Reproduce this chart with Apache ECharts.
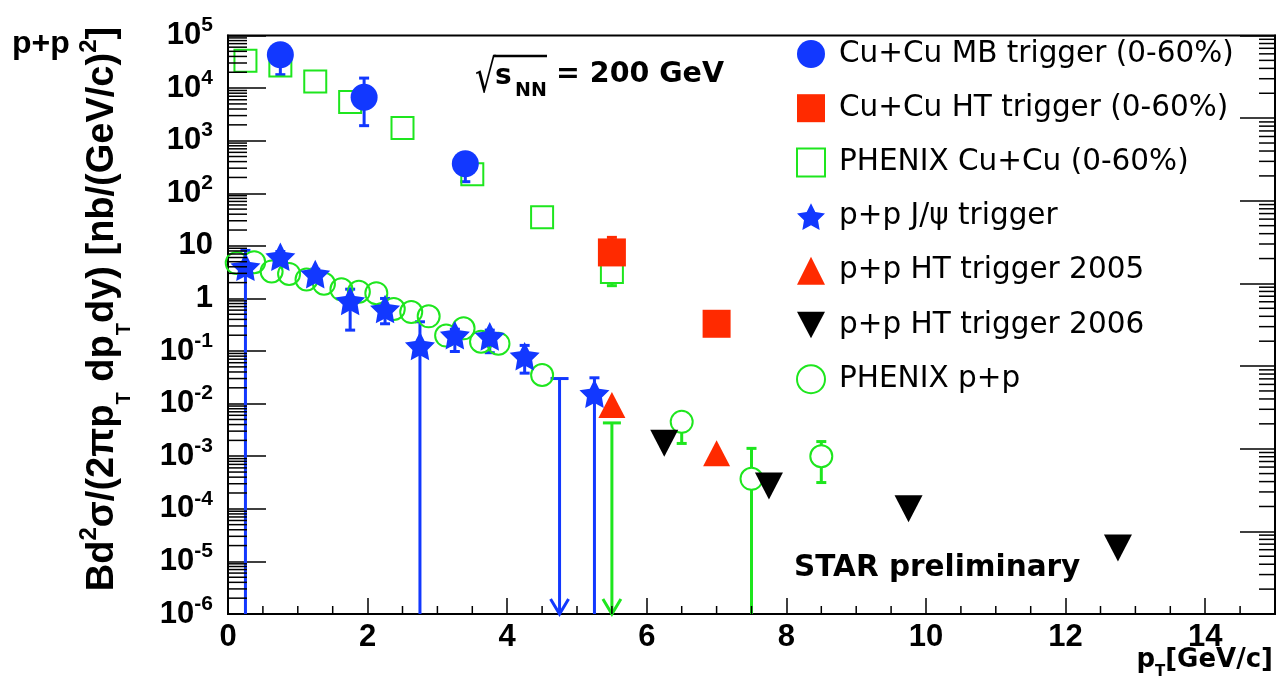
<!DOCTYPE html>
<html>
<head>
<meta charset="utf-8">
<script src="https://cdn.jsdelivr.net/npm/echarts@6/dist/echarts.min.js"></script>
<style>
  html, body { margin: 0; padding: 0; background: #fff; }
  #chart { width: 1276px; height: 684px; }
</style>
</head>
<body>
<div id="chart"></div>
<script>
// J/psi invariant yield B d2sigma/(2pi pT dpT dy) [nb/(GeV/c)^2] versus pT [GeV/c]
// Values with their lower / upper error-bar ends; a lower end of 0 runs off the axis.

// STAR Cu+Cu, minimum-bias trigger (0-60%)
const cuMbPt  = [0.75, 1.95, 3.4];
const cuMbVal = [4.3e4, 6.7e3, 363];
const cuMbLo  = [1.8e4, 1.93e3, 166];
const cuMbHi  = [6.0e4, 1.55e4, 480];

// STAR Cu+Cu, high-tower trigger (0-60%)
const cuHtPt  = [5.5, 7.0];
const cuHtVal = [7.5, 0.33];
const cuHtLo  = [5.5, 0.26];
const cuHtHi  = [14.5, 0.42];

// PHENIX Cu+Cu (0-60%)
const phxCuPt  = [0.25, 0.75, 1.25, 1.75, 2.5, 3.5, 4.5, 5.5];
const phxCuVal = [3.3e4, 2.7e4, 1.33e4, 5450, 1740, 231, 35, 3.2];
const phxCuLo  = [3.0e4, 2.5e4, 1.25e4, 5100, 1650, 215, 32, 1.75];
const phxCuHi  = [3.6e4, 2.9e4, 1.4e4, 5800, 1830, 247, 38, 4.6];

// STAR p+p, J/psi trigger
const ppPt  = [0.25, 0.75, 1.25, 1.75, 2.25, 2.75, 3.25, 3.75, 4.25, 5.25];
const ppVal = [4.0, 6.2, 2.9, 0.9, 0.63, 0.125, 0.2, 0.19, 0.08, 0.0155];
const ppLo  = [0, 4.8, 2.3, 0.25, 0.33, 0, 0.098, 0.093, 0.038, 0];
const ppHi  = [8.2, 7.8, 3.6, 1.5, 1.0, 0.36, 0.26, 0.25, 0.128, 0.031];
// STAR p+p, J/psi trigger: upper limit
const ppLimPt  = [4.75];
const ppLimVal = [0.03];

// STAR p+p, high-tower trigger 2005 / 2006
const ht05Pt  = [5.5, 7.0];
const ht05Val = [0.0094, 0.00114];
const ht06Pt  = [6.25, 7.75, 9.75, 12.75];
const ht06Val = [0.00176, 2.73e-4, 1.0e-4, 1.8e-5];

// PHENIX p+p
const phxPpPt  = [0.125, 0.375, 0.625, 0.875, 1.125, 1.375, 1.625, 1.875, 2.125, 2.375,
                  2.625, 2.875, 3.125, 3.375, 3.625, 3.875, 4.5, 6.5, 7.5, 8.5];
const phxPpVal = [4.7, 4.9, 3.27, 2.93, 2.3, 1.9, 1.49, 1.34, 1.26, 0.63,
                  0.55, 0.457, 0.197, 0.27, 0.15, 0.138, 0.035, 0.0045, 3.72e-4, 1.0e-3];
const phxPpLo  = [4.4, 4.6, 3.1, 2.75, 2.15, 1.78, 1.4, 1.26, 1.18, 0.59,
                  0.51, 0.42, 0.18, 0.25, 0.138, 0.126, 0.031, 0.00175, 0, 3.16e-4];
const phxPpHi  = [5.0, 5.2, 3.45, 3.1, 2.45, 2.02, 1.58, 1.42, 1.34, 0.67,
                  0.59, 0.49, 0.215, 0.29, 0.162, 0.15, 0.039, 0.0068, 1.41e-3, 1.9e-3];
// PHENIX p+p: upper limit
const phxPpLimPt  = [5.5];
const phxPpLimVal = [0.0043];

// axis ranges (y axes are decades: log10 of the value)
const xMin = 0, xMax = 15, xMajor = 2, xMinorStep = 0.5;
const yExpMin = -6, yExpMax = 5;      // left axis
const rExpMin = 0, rExpMax = 7;       // right-hand frame axis

const names = {
  cuMb: 'Cu+Cu MB trigger (0-60%)',
  cuHt: 'Cu+Cu HT trigger (0-60%)',
  phxCu: 'PHENIX Cu+Cu (0-60%)',
  pp: 'p+p J/\u03c8 trigger',
  ht05: 'p+p HT trigger 2005',
  ht06: 'p+p HT trigger 2006',
  phxPp: 'PHENIX p+p'
};

const BLUE = '#1238ff', RED = '#ff2a00', GREEN = '#1ee61e', BLACK = '#000000';
const STAR = 'path://M1,0L1.294,0.595L1.951,0.691L1.476,1.155L1.588,1.809L1,1.5L0.412,1.809L0.524,1.155L0.049,0.691L0.706,0.595Z';
const DOWN = 'path://M0,0L2,0L1,1.9Z';
const TICK_FONT = 'Liberation Sans';
const TEXT_FONT = 'DejaVu Sans';

const lg = v => (v > 0 ? Math.log10(v) : null);
const zip = (xs, ys) => xs.map((x, i) => [x, lg(ys[i])]);

// vertical error bars with end caps; 'gap' keeps the bar out of open markers
function errorBars(xs, ys, lo, hi, color, gap) {
  return {
    type: 'custom', silent: true,
    data: xs.map((x, i) => [x, lg(ys[i]), lg(lo[i]), lg(hi[i])]),
    renderItem(params, api) {
      const cs = params.coordSys;
      const bottom = cs.y + cs.height;
      const x = api.value(0);
      const c = api.coord([x, api.value(1)]);
      const l = api.value(2), h = api.value(3);
      const st = { stroke: color, lineWidth: 3 };
      const kids = [];
      const open = l == null || isNaN(l);
      const yl = open ? bottom : Math.min(api.coord([x, l])[1], bottom);
      const yh = api.coord([x, h])[1];
      if (yl > c[1] + gap) {
        kids.push({ type: 'line', shape: { x1: c[0], y1: c[1] + gap, x2: c[0], y2: yl }, style: st });
        if (!open) kids.push({ type: 'line', shape: { x1: c[0] - 5, y1: yl, x2: c[0] + 5, y2: yl }, style: st });
      }
      if (yh < c[1] - gap) {
        kids.push({ type: 'line', shape: { x1: c[0], y1: c[1] - gap, x2: c[0], y2: yh }, style: st });
        kids.push({ type: 'line', shape: { x1: c[0] - 5, y1: yh, x2: c[0] + 5, y2: yh }, style: st });
      }
      return { type: 'group', children: kids };
    }
  };
}

// upper limits: bar at the limit, line down to the axis, open arrow head
function upperLimits(xs, vals, color) {
  return {
    type: 'custom', silent: true,
    data: zip(xs, vals),
    renderItem(params, api) {
      const cs = params.coordSys;
      const bottom = cs.y + cs.height;
      const c = api.coord([api.value(0), api.value(1)]);
      const st = { stroke: color, lineWidth: 3, fill: null };
      return {
        type: 'group', children: [
          { type: 'line', shape: { x1: c[0] - 9, y1: c[1], x2: c[0] + 9, y2: c[1] }, style: st },
          { type: 'line', shape: { x1: c[0], y1: c[1], x2: c[0], y2: bottom }, style: st },
          { type: 'polyline', shape: { points: [[c[0] - 9, bottom - 15], [c[0], bottom], [c[0] + 9, bottom - 15]] }, style: st }
        ]
      };
    }
  };
}

// minor ticks drawn inward from an axis edge
function ticks(points, yAxisIndex, dx, dy) {
  return {
    type: 'custom', silent: true, yAxisIndex: yAxisIndex, z: 5,
    data: points,
    renderItem(params, api) {
      const p = api.coord([api.value(0), api.value(1)]);
      return { type: 'line', shape: { x1: p[0], y1: p[1], x2: p[0] + dx, y2: p[1] + dy },
               style: { stroke: '#000', lineWidth: 1.5 } };
    }
  };
}

const leftMinor = [], rightMinor = [], bottomMinor = [];
for (let e = yExpMin; e < yExpMax; e++)
  for (let m = 2; m <= 9; m++) leftMinor.push([xMin, e + Math.log10(m)]);
for (let e = rExpMin; e < rExpMax; e++)
  for (let m = 2; m <= 9; m++) rightMinor.push([xMax, e + Math.log10(m)]);
for (let v = xMin + xMinorStep; v < xMax; v += xMinorStep)
  if (Math.abs(v / xMajor - Math.round(v / xMajor)) > 1e-9) bottomMinor.push([v, yExpMin]);

const chart = echarts.init(document.getElementById('chart'));

const rich = {
  p: { fontFamily: TICK_FONT, fontWeight: 'bold', fontSize: 31, lineHeight: 31, color: '#000' },
  b: { fontFamily: TICK_FONT, fontWeight: 'bold', fontSize: 31, lineHeight: 31, color: '#000',
       padding: [20, 0, 0, 0], verticalAlign: 'bottom' },
  s: { fontFamily: TICK_FONT, fontWeight: 'bold', fontSize: 21, lineHeight: 21, color: '#000',
       padding: [0, 0, 15, 0], verticalAlign: 'bottom' }
};

const titleRich = {
  m: { fontFamily: TICK_FONT, fontWeight: 'bold', fontSize: 38, lineHeight: 38, fill: '#000',
       padding: [0, 0, 12, 0], verticalAlign: 'bottom' },
  u: { fontFamily: TICK_FONT, fontWeight: 'bold', fontSize: 24, lineHeight: 24, fill: '#000',
       padding: [0, 0, 33, 0], verticalAlign: 'bottom' },
  d: { fontFamily: TICK_FONT, fontWeight: 'bold', fontSize: 20, lineHeight: 20, fill: '#000',
       padding: [0, 0, 0, 0], verticalAlign: 'bottom' }
};

const option = {
  animation: false,
  backgroundColor: '#fff',
  grid: { left: 228, right: 1, top: 22, bottom: 70, show: true, borderColor: '#000', borderWidth: 2 },
  xAxis: {
    type: 'value', min: xMin, max: xMax, interval: xMajor,
    axisLine: { show: true, onZero: false, lineStyle: { color: '#000', width: 2 } },
    axisTick: { show: true, inside: true, length: 16, lineStyle: { color: '#000', width: 1.5 } },
    splitLine: { show: false },
    axisLabel: { margin: 8, showMaxLabel: false, color: '#000', fontFamily: TICK_FONT,
                 fontWeight: 'bold', fontSize: 31 }
  },
  yAxis: [{
    type: 'value', min: yExpMin, max: yExpMax, interval: 1,
    axisLine: { show: true, onZero: false, lineStyle: { color: '#000', width: 2 } },
    axisTick: { show: true, inside: true, length: 38, lineStyle: { color: '#000', width: 1.5 } },
    splitLine: { show: false },
    axisLabel: {
      margin: 15,
      formatter: v => {
        const e = Math.round(v);
        if (e === 0) return '{p|1}';
        if (e === 1) return '{p|10}';
        return '{b|10}{s|' + e + '}';
      },
      rich: rich
    }
  }, {
    type: 'value', min: rExpMin, max: rExpMax, interval: 1, position: 'right',
    axisLine: { show: true, onZero: false, lineStyle: { color: '#000', width: 2 } },
    axisTick: { show: true, inside: true, length: 35, lineStyle: { color: '#000', width: 1.5 } },
    axisLabel: { show: false },
    splitLine: { show: false }
  }],
  legend: {
    orient: 'vertical', left: 796, top: 39, padding: 0,
    itemWidth: 28, itemHeight: 28, itemGap: 24.2, selectedMode: false,
    textStyle: { fontFamily: TEXT_FONT, fontSize: 29.5, lineHeight: 28, color: '#000', padding: [0, 0, 0, 9] },
    data: [names.cuMb, names.cuHt, names.phxCu, names.pp, names.ht05, names.ht06, names.phxPp]
  },
  graphic: [
    { type: 'text', x: 12, y: 44, style: { text: 'p+p', fontFamily: TICK_FONT, fontWeight: 'bold',
      fontSize: 32, fill: '#000', verticalAlign: 'middle' } },
    { type: 'text', x: 115, y: 309, rotation: Math.PI / 2,
      style: { text: '{m|Bd}{u|2}{m|\u03c3/(2\u03c0p}{d|T}{m| dp}{d|T}{m|dy) [nb/(GeV/c)}{u|2}{m|]}',
               rich: titleRich, align: 'center', verticalAlign: 'middle' } },
    { type: 'text', x: 1273, y: 667,
      style: { text: '{m|p}{d|T}{m|[GeV/c]}', align: 'right', verticalAlign: 'middle',
               rich: {
                 m: { fontFamily: TEXT_FONT, fontWeight: 'bold', fontSize: 26, lineHeight: 26, fill: '#000',
                      padding: [0, 0, 7, 0], verticalAlign: 'bottom' },
                 d: { fontFamily: TEXT_FONT, fontWeight: 'bold', fontSize: 15, lineHeight: 15, fill: '#000',
                      verticalAlign: 'bottom' }
               } } },
    { type: 'text', x: 794, y: 568, style: { text: 'STAR preliminary', fontFamily: TEXT_FONT,
      fontWeight: 'bold', fontSize: 29.5, fill: '#000', verticalAlign: 'middle' } },
    { type: 'text', x: 475, y: 80, scaleX: 0.72,
      style: { text: '\u221a', fontFamily: TEXT_FONT, fontSize: 46, fill: '#000', verticalAlign: 'middle' } },
    { type: 'line', shape: { x1: 494, y1: 56, x2: 547, y2: 56 }, style: { stroke: '#000', lineWidth: 2.5 } },
    { type: 'text', x: 495, y: 77, style: { text: 's', fontFamily: TEXT_FONT, fontWeight: 'bold',
      fontSize: 28, fill: '#000', verticalAlign: 'middle' } },
    { type: 'text', x: 515, y: 91, style: { text: 'NN', fontFamily: TEXT_FONT, fontWeight: 'bold',
      fontSize: 19, fill: '#000', verticalAlign: 'middle' } },
    { type: 'text', x: 556, y: 75, style: { text: '= 200 GeV', fontFamily: TEXT_FONT, fontWeight: 'bold',
      fontSize: 28.5, fill: '#000', verticalAlign: 'middle' } }
  ],
  series: [
    // PHENIX p+p
    errorBars(phxPpPt, phxPpVal, phxPpLo, phxPpHi, GREEN, 11),
    { name: names.phxPp, type: 'scatter', data: zip(phxPpPt, phxPpVal), symbol: 'circle', symbolSize: 22,
      itemStyle: { color: 'rgba(255,255,255,0)', borderColor: GREEN, borderWidth: 2, opacity: 1 } },
    upperLimits(phxPpLimPt, phxPpLimVal, GREEN),
    // PHENIX Cu+Cu
    errorBars(phxCuPt, phxCuVal, phxCuLo, phxCuHi, GREEN, 11),
    { name: names.phxCu, type: 'scatter', data: zip(phxCuPt, phxCuVal), symbol: 'rect', symbolSize: 22,
      itemStyle: { color: 'rgba(255,255,255,0)', borderColor: GREEN, borderWidth: 2, opacity: 1 } },
    // STAR p+p J/psi trigger
    errorBars(ppPt, ppVal, ppLo, ppHi, BLUE, 0),
    upperLimits(ppLimPt, ppLimVal, BLUE),
    { name: names.pp, type: 'scatter', data: zip(ppPt, ppVal), symbol: STAR, symbolSize: 30,
      symbolKeepAspect: true, itemStyle: { color: BLUE, opacity: 1 } },
    // STAR Cu+Cu
    errorBars(cuMbPt, cuMbVal, cuMbLo, cuMbHi, BLUE, 0),
    { name: names.cuMb, type: 'scatter', data: zip(cuMbPt, cuMbVal), symbol: 'circle', symbolSize: 27,
      itemStyle: { color: BLUE, opacity: 1 } },
    errorBars(cuHtPt, cuHtVal, cuHtLo, cuHtHi, RED, 0),
    { name: names.cuHt, type: 'scatter', data: zip(cuHtPt, cuHtVal), symbol: 'rect', symbolSize: 28,
      itemStyle: { color: RED, opacity: 1 } },
    // STAR p+p high-tower
    { name: names.ht05, type: 'scatter', data: zip(ht05Pt, ht05Val), symbol: 'triangle', symbolSize: [27, 26],
      itemStyle: { color: RED, opacity: 1 } },
    { name: names.ht06, type: 'scatter', data: zip(ht06Pt, ht06Val), symbol: DOWN, symbolSize: [28, 27],
      itemStyle: { color: BLACK, opacity: 1 } },
    // minor ticks
    ticks(leftMinor, 0, 19, 0),
    ticks(rightMinor, 1, -16, 0),
    ticks(bottomMinor, 0, 0, -8)
  ]
};

chart.setOption(option);
</script>
</body>
</html>
